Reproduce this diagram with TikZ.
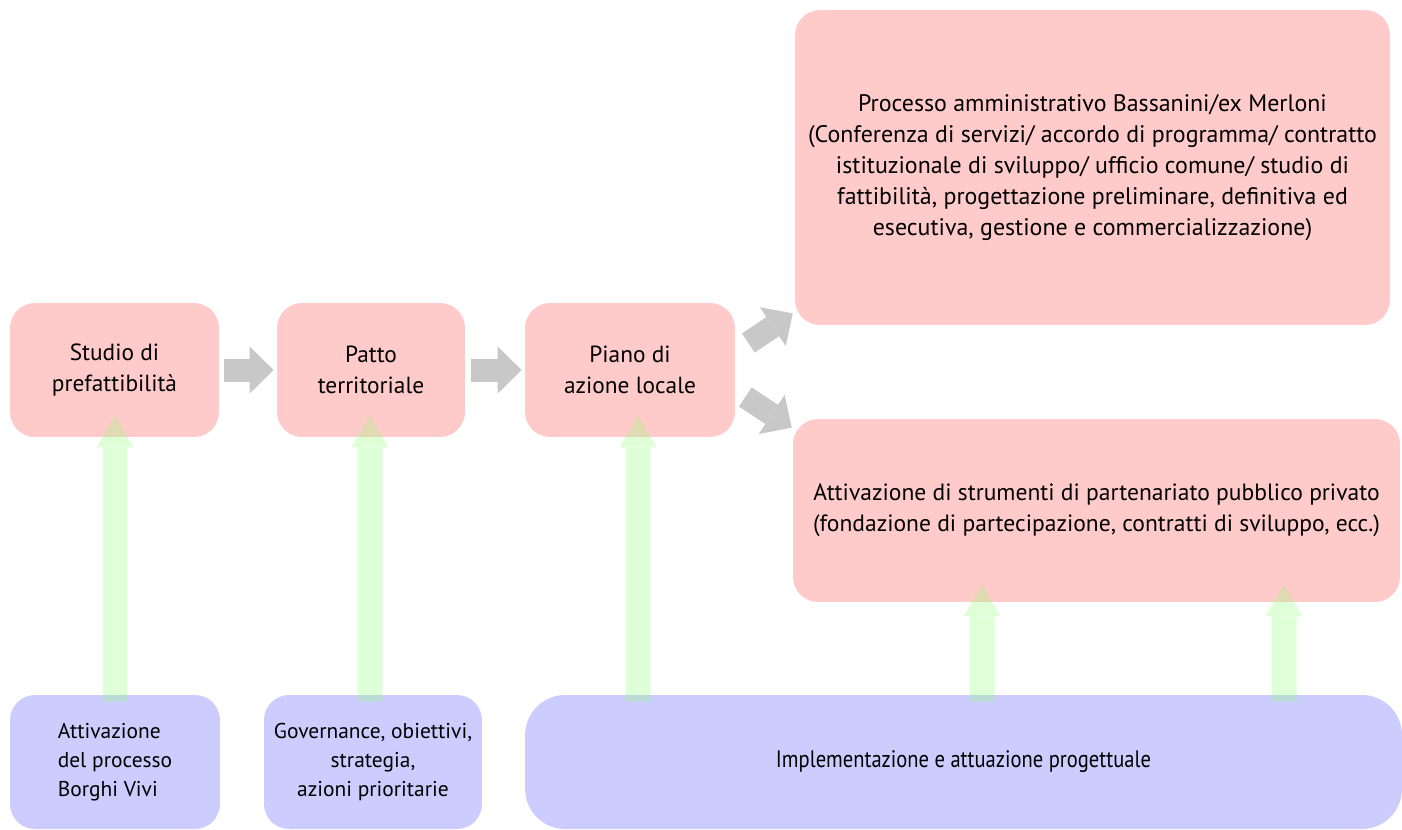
\documentclass[tikz,border=0pt]{standalone}
\usepackage{fontspec}
\setmainfont{PT Sans}
\usetikzlibrary{arrows.meta}
\definecolor{boxred}{RGB}{255,202,202}
\definecolor{boxblue}{RGB}{204,204,255}
\definecolor{arrgray}{RGB}{200,200,200}
\definecolor{arrgreen}{RGB}{150,255,125}
\begin{document}
\begin{tikzpicture}[x=0.02cm,y=-0.02cm,
  box/.style={rectangle, rounded corners=0.5cm, inner sep=0pt, align=center,
    font=\fontsize{13.3}{17.3}\selectfont, text=black},
  redbox/.style={box, fill=boxred},
  bluebox/.style={box, fill=boxblue, font=\fontsize{12.2}{16.3}\selectfont},
  grayarr/.style={draw=arrgray, line width=0.46cm,
    -{Triangle[length=0.48cm, width=0.94cm, line width=0pt]}},
  greenarr/.style={draw=arrgreen, line width=0.5cm,
    -{Triangle[length=0.64cm, width=0.74cm, line width=0pt]}}
]
\useasboundingbox (0,0) rectangle (1402,829);

% red boxes
\node[redbox, minimum width=4.18cm, minimum height=2.68cm] (studio) at (114.5,370) {Studio di\\prefattibilità};
\node[redbox, minimum width=3.76cm, minimum height=2.68cm] (patto) at (371,370) {Patto\\territoriale};
\node[redbox, minimum width=4.2cm, minimum height=2.68cm] (piano) at (630,370) {Piano di\\azione locale};
\node[redbox, font=\fontsize{13.6}{17.6}\selectfont, minimum width=11.9cm, minimum height=6.3cm] (proc) at (1092.5,167.5)
  {Processo amministrativo Bassanini/ex Merloni\\(Conferenza di servizi/ accordo di programma/ contratto\\istituzionale di sviluppo/ ufficio comune/ studio di\\fattibilità, progettazione preliminare, definitiva ed\\esecutiva, gestione e commercializzazione)};
\node[redbox, font=\fontsize{13.4}{17.6}\selectfont, minimum width=12.14cm, minimum height=3.66cm] (ppp) at (1096.5,510.5)
  {Attivazione di strumenti di partenariato pubblico privato\\(fondazione di partecipazione, contratti di sviluppo, ecc.)};

% blue boxes
\node[bluebox, align=left, minimum width=4.2cm, minimum height=2.68cm] (avvio) at (115,762) {Attivazione\\del processo\\Borghi Vivi};
\node[bluebox, minimum width=4.36cm, minimum height=2.68cm] (gov) at (373,762) {Governance, obiettivi,\\strategia,\\azioni prioritarie};
\node[bluebox, rounded corners=0.8cm, minimum width=17.54cm, minimum height=2.68cm] (impl) at (963.5,762)
  {\scalebox{0.86}[1]{\fontsize{13.6}{16}\selectfont Implementazione e attuazione progettuale}};

% gray arrows
\draw[grayarr] ([xshift=0.1cm]studio.east) -- ([xshift=-0.06cm]patto.west);
\draw[grayarr] ([xshift=0.12cm]patto.east) -- ([xshift=-0.06cm]piano.west);
\draw[grayarr] ([shift={(13,-27)}]piano.east) -- ([shift={(-2,-12)}]proc.south west);
\draw[grayarr] ([shift={(10,27)}]piano.east) -- ([shift={(-1,9)}]ppp.north west);

% green arrows
\begin{scope}[transparency group, opacity=0.3]
\draw[greenarr] ([shift={(0,7)}]avvio.north) -- ([shift={(0.5,-22)}]studio.south);
\draw[greenarr] ([shift={(-3,7)}]gov.north) -- ([shift={(-1,-22)}]patto.south);
\draw[greenarr] ([shift={(-325.5,7)}]impl.north) -- ([shift={(8,-22)}]piano.south);
\draw[greenarr] ([shift={(18.5,7)}]impl.north) -- ([shift={(-114.5,-18)}]ppp.south);
\draw[greenarr] ([shift={(320.5,7)}]impl.north) -- ([shift={(187.5,-18)}]ppp.south);
\end{scope}
\end{tikzpicture}
\end{document}
